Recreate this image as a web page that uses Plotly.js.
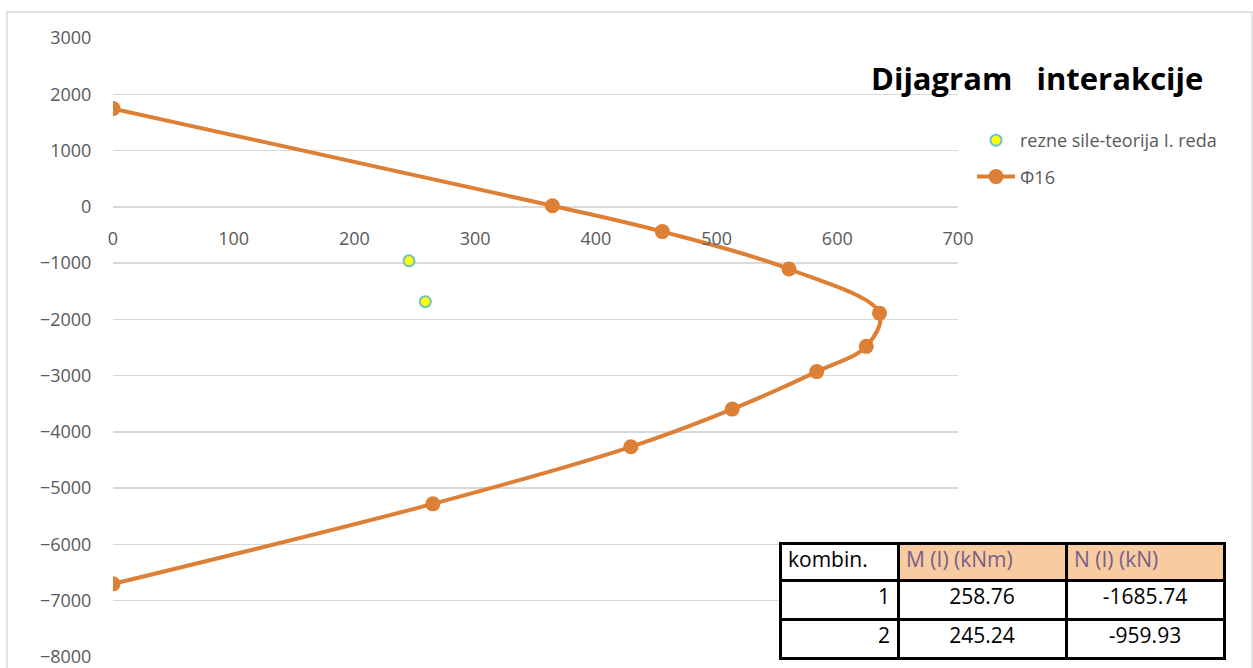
<!DOCTYPE html>
<html>
<head>
<meta charset="utf-8">
<script src="https://cdn.plot.ly/plotly-3.0.1.min.js"></script>
<style>html,body{margin:0;padding:0;background:#fff;}#chart{width:1253px;height:668px;}</style>
</head>
<body>
<div id="chart"></div>
<script>
// Interaction diagram (Φ16): M [kNm] vs N [kN]
const curveM = [0, 364, 455, 560, 635, 624, 583, 513, 429, 265, 0];
const curveN = [1745, 20, -440, -1105, -1890, -2480, -2928, -3595, -4265, -5278, -6700];

// Section forces, 1st order theory
const kombin = [1, 2];
const loadM = [258.76, 245.24];
const loadN = [-1685.74, -959.93];

const seriesNames = ['rezne sile-teorija I. reda', '\u03A616'];
const tableHeader = ['kombin.', 'M (I) (kNm)', 'N (I) (kN)'];
const chartTitle = 'Dijagram&nbsp;&nbsp;&nbsp;interakcije';

const W = 1253, H = 668;
const mL = 113, mR = 1, mT = 10, mB = 5;
const pw = W - mL - mR, ph = H - mT - mB;
const px = x => (x - mL) / pw;
const py = y => (H - mB - y) / ph;

const yDom = [py(657), py(38)];
const xDom = [0, px(958)];
const yZero = yDom[0] + (8 / 11) * (yDom[1] - yDom[0]);

const gray = '#595959';
const orange = '#dd7f35';
const font = 'Open Sans, Liberation Sans, Arial, sans-serif';

const traces = [
  {
    type: 'scatter', mode: 'markers', name: seriesNames[0],
    x: loadM, y: loadN, legendgroup: 'a',
    marker: {size: 11, color: '#ffff00', line: {color: '#6cc3cc', width: 2}},
    hoverinfo: 'x+y'
  },
  {
    type: 'scatter', mode: 'lines+markers', name: seriesNames[1],
    x: curveM, y: curveN, legendgroup: 'b',
    line: {color: orange, width: 4, shape: 'spline', smoothing: 1},
    marker: {size: 15, color: orange},
    hoverinfo: 'x+y'
  },
  {
    type: 'table',
    domain: {x: [px(780), px(1224)], y: [0, py(543)]},
    columnwidth: [118, 168, 158],
    header: {
      values: tableHeader,
      height: 37,
      align: 'left',
      fill: {color: ['#ffffff', '#f8cba0', '#f8cba0']},
      line: {color: '#000000', width: 3},
      font: {family: font, size: 21, color: ['#000000', '#76608a', '#76608a']}
    },
    cells: {
      values: [kombin, loadM, loadN],
      format: ['', '.2f', '.2f'],
      height: 39,
      align: ['right', 'center', 'center'],
      fill: {color: '#ffffff'},
      line: {color: '#000000', width: 3},
      font: {family: font, size: 21, color: '#000000'}
    }
  }
];

const layout = {
  width: W, height: H,
  margin: {l: mL, r: mR, t: mT, b: mB},
  paper_bgcolor: '#ffffff', plot_bgcolor: 'rgba(0,0,0,0)',
  font: {family: font, color: gray},
  showlegend: true,
  legend: {
    x: px(972), y: py(122), xanchor: 'left', yanchor: 'top',
    traceorder: 'grouped', tracegroupgap: 10, itemwidth: 38,
    font: {family: font, size: 18, color: gray},
    bgcolor: 'rgba(0,0,0,0)'
  },
  xaxis: {
    domain: xDom, range: [0, 700], dtick: 100, tick0: 0,
    anchor: 'free', position: yZero,
    showgrid: false, zeroline: false, showline: false,
    ticks: 'outside', ticklen: 16, tickcolor: 'rgba(0,0,0,0)',
    tickfont: {family: font, size: 18, color: gray}
  },
  yaxis: {
    domain: yDom, range: [-8000, 3000], dtick: 1000, tick0: 0,
    showgrid: true, gridcolor: '#d9d9d9', gridwidth: 1.5,
    zeroline: false, showline: false,
    ticks: 'outside', ticklen: 17, tickcolor: 'rgba(0,0,0,0)',
    ticklabeloverflow: 'allow',
    tickfont: {family: font, size: 18, color: gray}
  },
  shapes: [{
    type: 'rect', xref: 'paper', yref: 'paper',
    x0: px(7), x1: px(1252), y0: -0.2, y1: py(12),
    line: {color: '#d9d9d9', width: 1.5}, fillcolor: 'rgba(0,0,0,0)', layer: 'below'
  }],
  annotations: [{
    text: '<b>' + chartTitle + '</b>', xref: 'paper', yref: 'paper',
    x: px(1037), y: py(78), xanchor: 'center', yanchor: 'middle',
    showarrow: false, font: {family: font, size: 31, color: '#000000'}
  }]
};

Plotly.newPlot('chart', traces, layout, {staticPlot: true, displayModeBar: false});
</script>
</body>
</html>
